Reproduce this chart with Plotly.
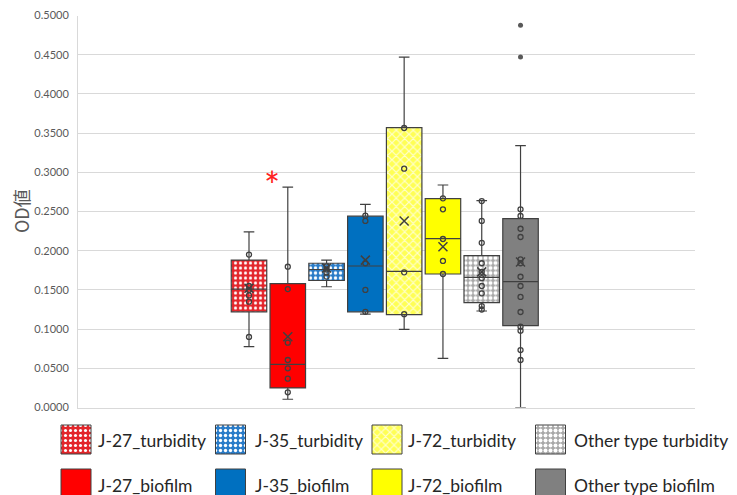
import plotly.graph_objects as go

# ---------------- data ----------------
categories = ["J-27_turbidity", "J-27_biofilm", "J-35_turbidity", "J-35_biofilm",
              "J-72_turbidity", "J-72_biofilm", "Other type turbidity", "Other type biofilm"]
q1 = [0.122, 0.025, 0.162, 0.122, 0.1184, 0.1703, 0.1337, 0.1044]
median = [0.151, 0.0551, 0.176, 0.1805, 0.1737, 0.2153, 0.166, 0.1605]
q3 = [0.188, 0.158, 0.184, 0.244, 0.357, 0.2663, 0.1936, 0.2408]
lowerfence = [0.0776, 0.0105, 0.154, 0.119, 0.0997, 0.0627, 0.1231, 0.0]
upperfence = [0.224, 0.281, 0.188, 0.259, 0.447, 0.2838, 0.2638, 0.334]
means = [0.152, 0.0903, 0.178, 0.188, 0.238, 0.205, 0.173, 0.1856]
inner_points = [
    [0.195, 0.155, 0.150, 0.143, 0.135, 0.090],
    [0.1796, 0.151, 0.0827, 0.0606, 0.050, 0.0368, 0.0194],
    [0.180, 0.176, 0.172, 0.167],
    [0.2447, 0.238, 0.184, 0.150, 0.122],
    [0.3565, 0.3046, 0.1724, 0.119],
    [0.2668, 0.2528, 0.2149, 0.1869, 0.1703],
    [0.2633, 0.238, 0.210, 0.184, 0.173, 0.165, 0.155, 0.1456, 0.1294, 0.125],
    [0.2528, 0.2443, 0.228, 0.2175, 0.189, 0.184, 0.1668, 0.155, 0.141, 0.1218,
     0.103, 0.098, 0.0733, 0.0606],
]
outliers = [[], [], [], [], [], [], [], [0.4875, 0.447]]
y_ticks = [0.0, 0.05, 0.1, 0.15, 0.2, 0.25, 0.3, 0.35, 0.4, 0.45, 0.5]

# ---------------- styles ----------------
styles = [
    dict(color="#e3262b", pattern=dict(shape=".", bgcolor="#e3262b", fgcolor="white", size=5, solidity=0.3)),
    dict(color="#ff0000", pattern=None),
    dict(color="#2a7cc8", pattern=dict(shape=".", bgcolor="#2a7cc8", fgcolor="white", size=5, solidity=0.35)),
    dict(color="#0070c0", pattern=None),
    dict(color="#ffff55", pattern=dict(shape="x", bgcolor="#ffff55", fgcolor="#ffffd0", size=6, solidity=0.35)),
    dict(color="#ffff00", pattern=None),
    dict(color="#a8a8a8", pattern=dict(shape=".", bgcolor="#a8a8a8", fgcolor="white", size=5, solidity=0.5)),
    dict(color="#808080", pattern=None),
]
LINE = "#404040"
BOXW = 0.915
FONT = "Lato"
W, H = 737, 495          # browser window
OFF = 8                  # default page body margin
FW, FH = W - 2 * OFF, H - OFF

def fx(p):  # window pixel -> paper x
    return (p - OFF) / FW

def fy(p):  # window pixel -> paper y
    return 1 - (p - OFF) / FH

fig = go.Figure()
positions = list(range(len(categories)))

def marker_for(st, line_w=0):
    m = dict(color=st["color"], line=dict(color=LINE, width=line_w))
    if st["pattern"] is not None:
        p = dict(st["pattern"])
        p["fillmode"] = "replace"
        m["pattern"] = p
    return m

# box fills (bars support patterns)
for i, cat in enumerate(categories):
    fig.add_trace(go.Bar(x=[positions[i]], y=[q3[i] - q1[i]], base=[q1[i]], width=[BOXW],
                         marker=marker_for(styles[i]), name=cat, showlegend=False,
                         hoverinfo="skip"))

# box outlines / whiskers / medians
for i, cat in enumerate(categories):
    fig.add_trace(go.Box(x=[positions[i]], q1=[q1[i]], median=[median[i]], q3=[q3[i]],
                         lowerfence=[lowerfence[i]], upperfence=[upperfence[i]],
                         width=BOXW, whiskerwidth=0.3, boxpoints=False,
                         fillcolor="rgba(0,0,0,0)", line=dict(color=LINE, width=1.2),
                         name=cat, showlegend=False))

# inner points
px, py = [], []
for i, pts in enumerate(inner_points):
    for v in pts:
        px.append(positions[i]); py.append(v)
fig.add_trace(go.Scatter(x=px, y=py, mode="markers", showlegend=False,
                         marker=dict(symbol="circle-open", size=5, color=LINE,
                                     line=dict(width=1.3, color=LINE))))
# outliers
ox, oy = [], []
for i, pts in enumerate(outliers):
    for v in pts:
        ox.append(positions[i]); oy.append(v)
fig.add_trace(go.Scatter(x=ox, y=oy, mode="markers", showlegend=False,
                         marker=dict(symbol="circle", size=5, color="#595959")))
# means
fig.add_trace(go.Scatter(x=positions, y=means, mode="markers", showlegend=False,
                         marker=dict(symbol="x-thin", size=9,
                                     line=dict(width=1.5, color=LINE))))

# ---------------- custom legend (pixel space axes) ----------------
leg_cols_swatch = [76, 230.5, 387, 550.5]
leg_cols_text = [96, 253, 406, 572]
leg_rows_top = [425, 469]
leg_rows_text = [440, 485]
order = [0, 2, 4, 6, 1, 3, 5, 7]
for k, idx in enumerate(order):
    r, c = divmod(k, 4)
    fig.add_trace(go.Bar(x=[leg_cols_swatch[c] - OFF], y=[29], base=[leg_rows_top[r] - OFF], width=[30],
                         marker=marker_for(styles[idx], line_w=1), xaxis="x2", yaxis="y2",
                         showlegend=False, hoverinfo="skip"))
    fig.add_annotation(x=fx(leg_cols_text[c]), y=fy(leg_rows_text[r]), xref="paper", yref="paper",
                       text=categories[idx], showarrow=False, xanchor="left", yanchor="middle",
                       font=dict(family=FONT, size=17.5, color="#262626"))

# asterisk
fig.add_annotation(x=0.593, y=0.2943, text="*", showarrow=False, yshift=-8,
                   font=dict(family=FONT, size=38, color="#ff2020"))
# y title
fig.add_annotation(x=fx(21), y=fy(211), xref="paper", yref="paper", text="OD値",
                   textangle=-90, showarrow=False, xanchor="center", yanchor="middle",
                   font=dict(family="Noto Sans CJK JP", size=18, color="#595959"))

x0, x1 = 78, 695
y_top, y_bot = 15.5, 407.5
step = 38.79
fig.update_layout(
    width=FW, height=FH, margin=dict(l=0, r=0, t=0, b=0),
    paper_bgcolor="white", plot_bgcolor="rgba(0,0,0,0)",
    barmode="overlay", showlegend=False,
    xaxis=dict(domain=[fx(x0), fx(x1)], range=[(x0 - 249) / step, (x1 - 249) / step],
               showgrid=False, zeroline=False, showticklabels=False, ticks="",
               showline=True, linecolor="#d9d9d9", linewidth=1, anchor="y"),
    yaxis=dict(domain=[fy(y_bot), fy(y_top)], range=[0, 0.5],
               tickvals=y_ticks, tickformat=".4f", showgrid=True, gridcolor="#d9d9d9",
               gridwidth=1, zeroline=False, showline=True, linecolor="#d9d9d9",
               ticks="", ticklabelstandoff=6, automargin=False,
               tickfont=dict(family=FONT, size=11, color="#595959"), anchor="x"),
    xaxis2=dict(domain=[0, 1], range=[0, FW], visible=False, anchor="y2"),
    yaxis2=dict(domain=[0, 1], range=[FH, 0], visible=False, anchor="x2"),
)

fig.write_html("out.html")
